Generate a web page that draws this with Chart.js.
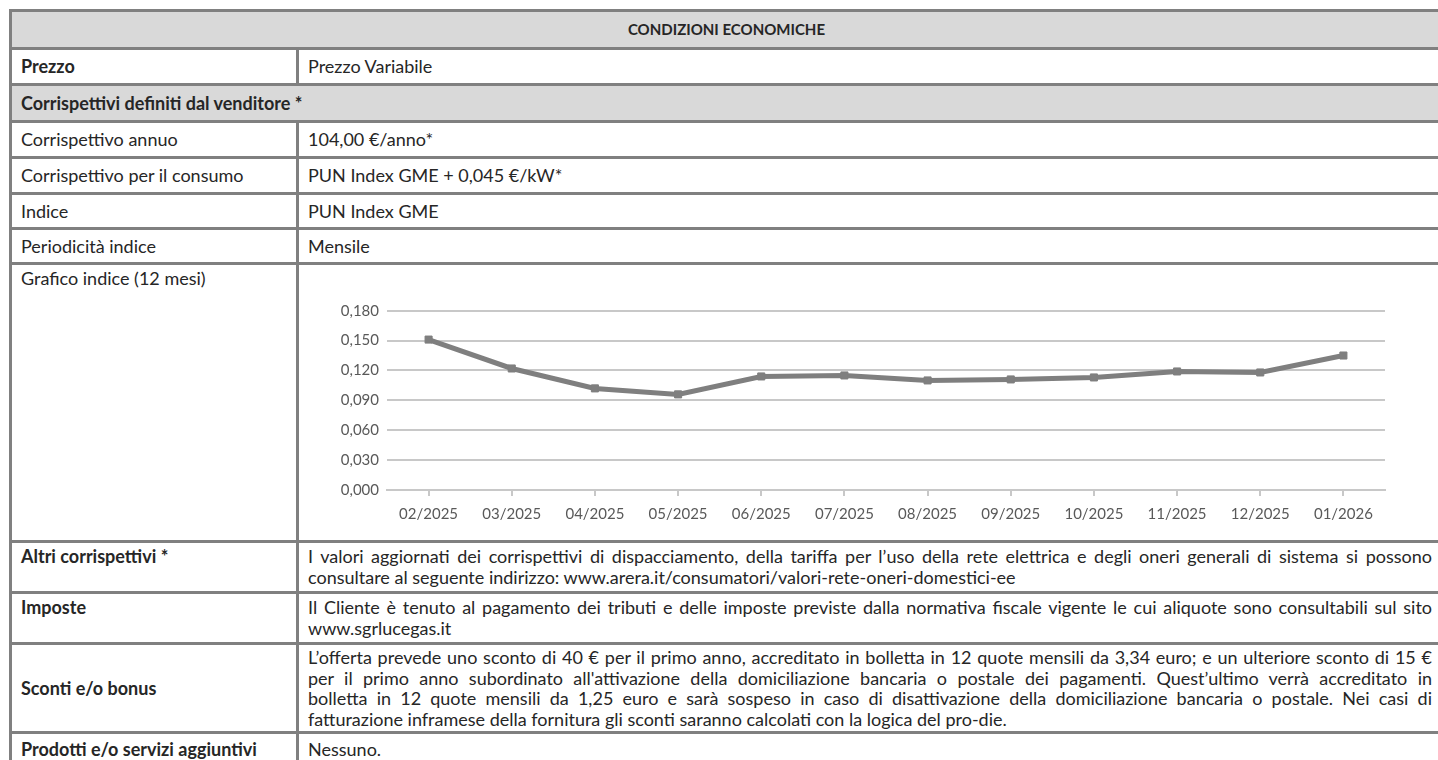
<!DOCTYPE html>
<html>
<head>
<meta charset="utf-8">
<script src="https://cdn.jsdelivr.net/npm/chart.js@4.4.1/dist/chart.umd.min.js"></script>
<style>
  html, body { margin: 0; padding: 0; background: #fff; overflow: hidden; width: 1438px; height: 760px; }
  body { position: relative; font-family: Lato, sans-serif; font-size: 18px; color: #262626; }
  table { position: absolute; left: 9px; top: 9px; width: 1438px; border-collapse: collapse; table-layout: fixed; }
  td { border: 3px solid #808080; padding: 0 12px 0 9px; line-height: 21px; vertical-align: middle; overflow: hidden; white-space: nowrap; }
  .grey { background: #d9d9d9; }
  .b { font-weight: bold; }
  .head { text-align: center; font-weight: bold; font-size: 15px; }
  .top { vertical-align: top; padding-top: 3px; }
  .just { white-space: normal; line-height: 20.5px; }
  .just div { text-align: justify; text-align-last: justify; }
  .just div:last-child { text-align-last: left; }
  #chartBox { position: absolute; left: 300px; top: 265px; width: 1091px; height: 265px; }
</style>
</head>
<body>
<table>
  <colgroup><col style="width:287px"><col></colgroup>
  <tr style="height:38px"><td colspan="2" class="grey head">CONDIZIONI ECONOMICHE</td></tr>
  <tr style="height:36px"><td class="b">Prezzo</td><td>Prezzo Variabile</td></tr>
  <tr style="height:37px"><td colspan="2" class="grey b">Corrispettivi definiti dal venditore *</td></tr>
  <tr style="height:36px"><td>Corrispettivo annuo</td><td>104,00 €/anno*</td></tr>
  <tr style="height:36px"><td>Corrispettivo per il consumo</td><td>PUN Index GME + 0,045 €/kW*</td></tr>
  <tr style="height:35px"><td>Indice</td><td>PUN Index GME</td></tr>
  <tr style="height:35px"><td>Periodicità indice</td><td>Mensile</td></tr>
  <tr style="height:278px"><td class="top">Grafico indice (12 mesi)</td><td></td></tr>
  <tr style="height:51px"><td class="b top">Altri corrispettivi *</td><td class="just top"><div>I valori aggiornati dei corrispettivi di dispacciamento, della tariffa per l’uso della rete elettrica e degli oneri generali di sistema si possono</div><div>consultare al seguente indirizzo: www.arera.it/consumatori/valori-rete-oneri-domestici-ee</div></td></tr>
  <tr style="height:51px"><td class="b top">Imposte</td><td class="just top"><div>Il Cliente è tenuto al pagamento dei tributi e delle imposte previste dalla normativa fiscale vigente le cui aliquote sono consultabili sul sito</div><div>www.sgrlucegas.it</div></td></tr>
  <tr style="height:89px"><td class="b">Sconti e/o bonus</td><td class="just"><div>L’offerta prevede uno sconto di 40 € per il primo anno, accreditato in bolletta in 12 quote mensili da 3,34 euro; e un ulteriore sconto di 15 €</div><div>per il primo anno subordinato all'attivazione della domiciliazione bancaria o postale dei pagamenti. Quest’ultimo verrà accreditato in</div><div>bolletta in 12 quote mensili da 1,25 euro e sarà sospeso in caso di disattivazione della domiciliazione bancaria o postale. Nei casi di</div><div>fatturazione inframese della fornitura gli sconti saranno calcolati con la logica del pro-die.</div></td></tr>
  <tr style="height:34px"><td class="b">Prodotti e/o servizi aggiuntivi</td><td>Nessuno.</td></tr>
</table>
<div id="chartBox"><canvas id="grafico"></canvas></div>
<script>
// Dati del grafico indice PUN (12 mesi)
const mesi = ['02/2025', '03/2025', '04/2025', '05/2025', '06/2025', '07/2025',
              '08/2025', '09/2025', '10/2025', '11/2025', '12/2025', '01/2026'];
const valoriPun = [0.151, 0.122, 0.102, 0.096, 0.114, 0.115,
                   0.110, 0.111, 0.113, 0.119, 0.118, 0.135];
const tickAsseY = [0, 0.03, 0.06, 0.09, 0.12, 0.15, 0.18];

const fontGrafico = { family: 'Lato', size: 15 };
const coloreGriglia = '#c8c8c8';
const coloreLinea = '#7f7f7f';

const ctx = document.getElementById('grafico').getContext('2d');
new Chart(ctx, {
    type: 'line',
    data: {
        labels: mesi,
        datasets: [{
            data: valoriPun,
            borderColor: coloreLinea,
            backgroundColor: coloreLinea,
            borderWidth: 5,
            pointStyle: 'rect',
            pointRadius: 5,
            pointBorderWidth: 1,
            pointBackgroundColor: coloreLinea,
            pointBorderColor: coloreLinea,
            tension: 0,
            fill: false
        }]
    },
    options: {
        responsive: true,
        maintainAspectRatio: false,
        animation: false,
        layout: { padding: { top: 45.7, right: 0, bottom: 0, left: 0 } },
        plugins: { legend: { display: false }, tooltip: { enabled: false } },
        scales: {
            x: {
                offset: true,
                grid: { drawOnChartArea: false, drawTicks: true, tickLength: 6, color: coloreGriglia, lineWidth: 2, offset: false },
                border: { color: coloreGriglia, width: 2 },
                ticks: { color: '#595959', font: fontGrafico, padding: 9, maxRotation: 0, autoSkip: false },
                afterFit: s => { s.height = 40; }
            },
            y: {
                min: tickAsseY[0],
                max: tickAsseY[tickAsseY.length - 1],
                afterBuildTicks: s => { s.ticks = tickAsseY.map(v => ({ value: v })); },
                grid: { color: coloreGriglia, lineWidth: 2, drawTicks: false },
                border: { display: false },
                ticks: {
                    color: '#595959', font: fontGrafico, padding: 8,
                    callback: v => v.toFixed(3).replace('.', ',')
                },
                afterFit: s => { s.width = 87; }
            }
        }
    }
});
</script>
</body>
</html>
